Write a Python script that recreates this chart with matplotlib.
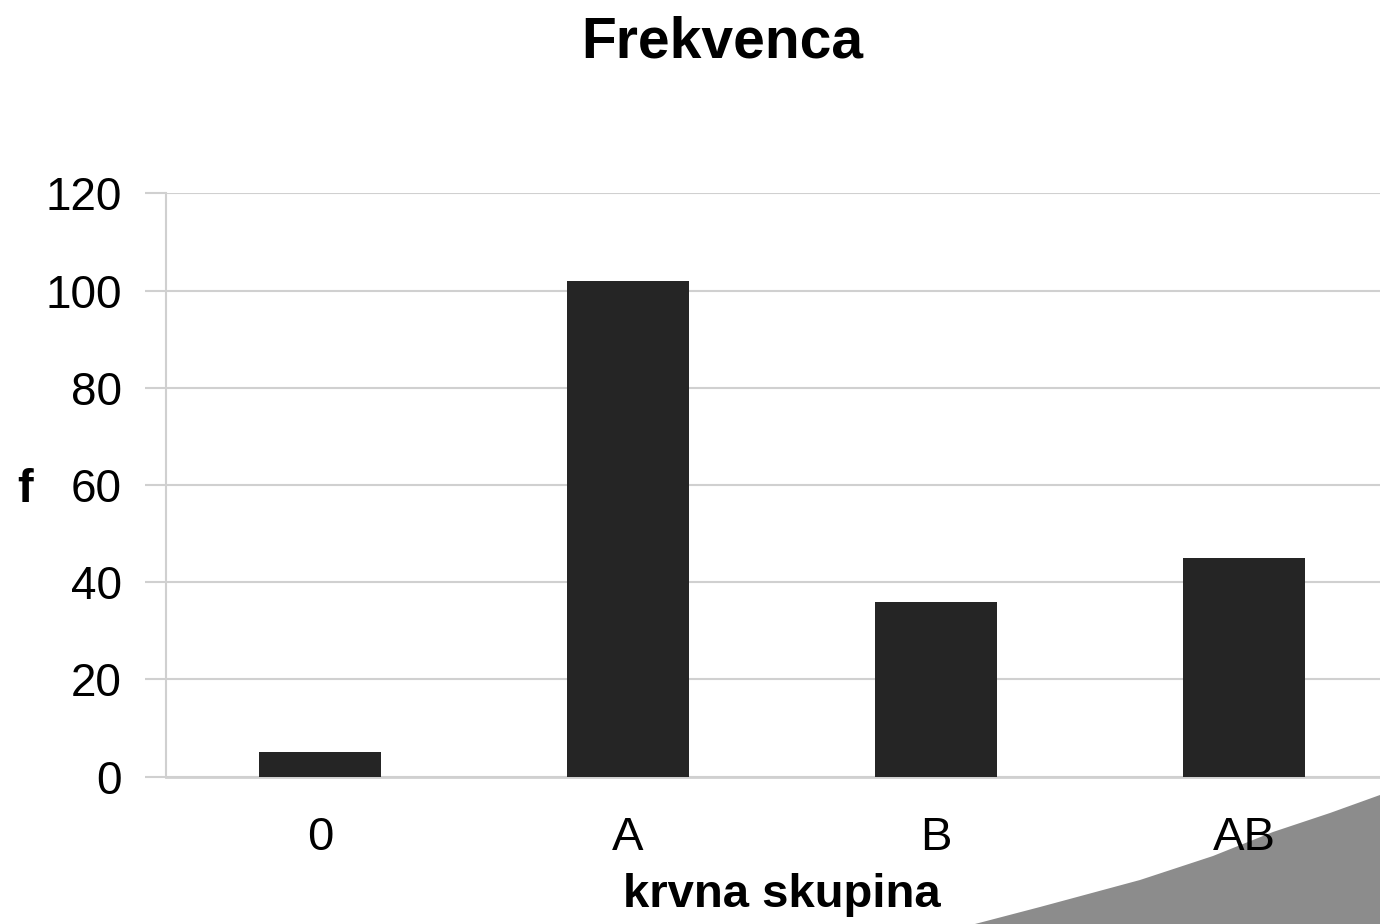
import matplotlib.pyplot as plt
import numpy as np
from matplotlib.patches import Polygon

# blood group frequencies
groups = ['0', 'A', 'B', 'AB']
freq = [5, 102, 36, 45]
yticks = [0, 20, 40, 60, 80, 100, 120]

plt.rcParams['font.family'] = ['Liberation Sans', 'DejaVu Sans']

fig = plt.figure(figsize=(13.8, 9.24), dpi=100)
ax = fig.add_axes([166/1380, 1-776.7/924, 1232/1380, (776.7-193.3)/924])
ax.set_facecolor('none')

ind = np.arange(len(groups))
ax.bar(ind, freq, 0.393, color='#252525', zorder=3)

ax.set_xlim(-0.5, 3.5)
ax.set_ylim(0, 120)
ax.set_yticks(yticks)
ax.set_xticks(ind)
ax.set_xticklabels(groups)
ax.grid(True, axis='y', color='#d0d0d0', linewidth=1.5, zorder=0)
ax.tick_params(axis='y', length=15, width=1.5, color='#d0d0d0', labelsize=33, pad=17)
ax.tick_params(axis='x', length=0, labelsize=34, pad=28)
for s in ['top', 'right']:
    ax.spines[s].set_visible(False)
ax.spines['left'].set_color('#d0d0d0')
ax.spines['left'].set_linewidth(1.5)
ax.spines['bottom'].set_color('#d0d0d0')
ax.spines['bottom'].set_linewidth(2)

fig.text(722/1380, 1-42/924, 'Frekvenca', ha='center', va='center', fontsize=41, fontweight='bold')
fig.text(782/1380, 1-895/924, 'krvna skupina', ha='center', va='center', fontsize=34, fontweight='bold')
fig.text(25/1380, 1-490/924, 'f', ha='center', va='center', fontsize=34, fontweight='bold')

# shaded corner
curl = np.array([[975, 924], [1040, 907], [1140, 880], [1213, 856], [1273, 832], [1330, 813], [1380, 795], [1380, 924]])
pts = np.column_stack([curl[:, 0]/1380, 1-curl[:, 1]/924])
fig.patches.append(Polygon(pts, closed=True, transform=fig.transFigure, facecolor='#8c8c8c', edgecolor='none', zorder=-1))

fig.savefig('out.png', dpi=100)
